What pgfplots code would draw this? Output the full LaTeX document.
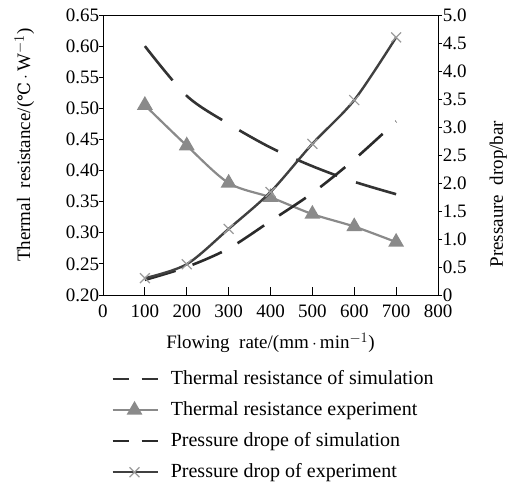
\documentclass[border=0pt]{standalone}
\usepackage{pgfplots}
\pgfplotsset{compat=1.18}
\usepackage{fontspec}
\setmainfont{Liberation Serif}
\newfontfamily\dejavu{DejaVu Serif}
\definecolor{tsim}{HTML}{333333}
\definecolor{texp}{HTML}{8A8A8A}
\definecolor{psim}{HTML}{2A2A2A}
\definecolor{pexp}{HTML}{404040}
\definecolor{xmk}{HTML}{9A9A9A}
\begin{document}
\fontsize{20}{24}\selectfont
\begin{tikzpicture}
\pgfplotsset{
  common/.style={
    scale only axis, width=335pt, height=280pt,
    at={(0pt,0pt)}, anchor=south west,
    xmin=0, xmax=800,
    tick label style={font=\fontsize{19}{21}\selectfont},
    label style={font=\fontsize{19}{21}\selectfont},
    /pgf/number format/assume math mode=true,
    tick style={black, line width=0.8pt},
    axis line style={line width=0.8pt},
  },
  tsimS/.style={tsim, line width=2.6pt, dash pattern=on 44pt off 20pt, smooth},
  texpS/.style={texp, line width=2.2pt, smooth, mark=triangle*, mark size=7pt, mark options={solid, fill=texp, draw=texp}},
  psimS/.style={psim, line width=2.6pt, dash pattern=on 32pt off 18pt, smooth},
  pexpS/.style={pexp, line width=2.4pt, smooth, mark=x, mark size=7pt, mark options={solid, draw=xmk, line width=1.2pt}},
}
\useasboundingbox (-103pt,-191pt) rectangle (407pt,295pt);
\begin{axis}[common,
  ymin=0.2, ymax=0.65,
  xtick={0,100,...,800},
  ytick={0.2,0.25,...,0.66},
  yticklabels={0.20,0.25,0.30,0.35,0.40,0.45,0.50,0.55,0.60,0.65},
  xtick pos=bottom, ytick pos=left,
  tick align=inside,
  major tick length=8pt,
  ytick style={xshift=-4pt, /pgfplots/major tick length=4pt},
  yticklabel style={xshift=3pt},
  xticklabel style={yshift=-3pt},
  xlabel={Flowing\ \ rate/(mm\,$\cdot$\,min$^{-1}$)},
  xlabel style={at={(axis description cs:0.5,-0.17)}, anchor=center},
  ylabel={Thermal\ \ resistance/({\dejavu\fontsize{17}{20}\selectfont ℃}\,$\cdot$\,W$^{-1}$)},
  ylabel style={at={(axis description cs:-0.235,0.535)}, anchor=center, rotate=0},
]
\addplot[tsimS] coordinates {(100,0.60) (200,0.52) (300,0.475) (400,0.437) (500,0.407) (600,0.382) (700,0.362)};
\addplot[texpS] coordinates {(100,0.505) (200,0.44) (300,0.38) (400,0.357) (500,0.33) (600,0.31) (700,0.285)};
\end{axis}
\begin{axis}[common,
  ymin=0, ymax=5,
  axis x line=none, axis y line*=right,
  ytick={0,0.5,...,5.01},
  yticklabels={0,0.5,1.0,1.5,2.0,2.5,3.0,3.5,4.0,4.5,5.0},
  tick align=inside,
  major tick length=4pt,
  ytick style={xshift=4pt},
  yticklabel style={xshift=-2pt},
  ylabel={Pressaure\ \ drop/bar},
  ylabel style={at={(axis description cs:1.18,0.36)}, anchor=center, rotate=0},
  legend style={draw=none, fill=none, at={(axis description cs:0.015,-0.255)}, anchor=north west,
    row sep=10pt, font=\fontsize{20}{22}\selectfont, cells={anchor=west},
    /tikz/every odd column/.append style={column sep=10pt}},
  legend image code/.code={\draw[mark repeat=2,mark phase=2,#1] plot coordinates {(0pt,0pt) (22pt,0pt) (45pt,0pt)};},
]
\addlegendimage{tsim, line width=2.6pt, dash pattern=on 16pt off 13pt}
\addlegendentry{Thermal resistance of simulation}
\addlegendimage{texpS}
\addlegendentry{Thermal resistance experiment}
\addlegendimage{psim, line width=2.6pt, dash pattern=on 16pt off 13pt}
\addlegendentry{Pressure drope of simulation}
\addlegendimage{pexpS}
\addlegendentry{Pressure drop of experiment}
\addplot[psimS, forget plot] coordinates {(100,0.27) (200,0.5) (300,0.83) (400,1.32) (500,1.82) (600,2.42) (700,3.1)};
\addplot[pexpS, forget plot] coordinates {(100,0.3) (200,0.55) (300,1.18) (400,1.84) (500,2.7) (600,3.48) (700,4.6)};
\end{axis}
\end{tikzpicture}
\end{document}
